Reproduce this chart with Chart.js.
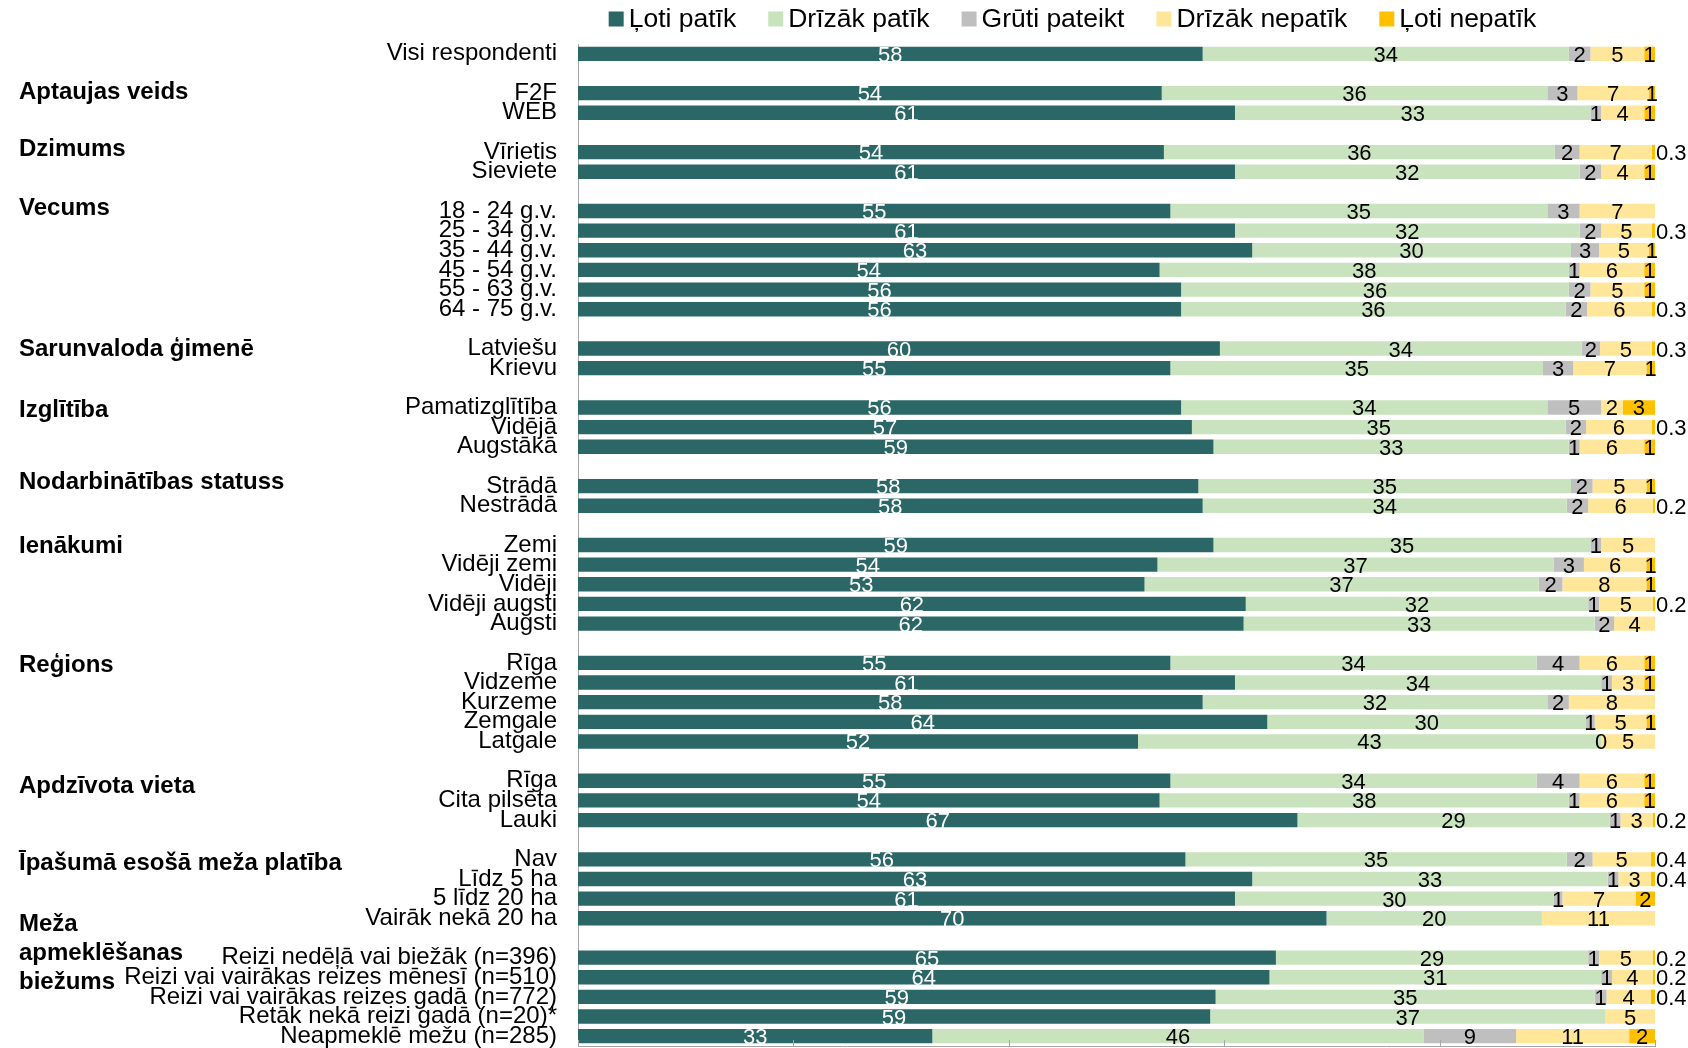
<!DOCTYPE html>
<html>
<head>
<meta charset="utf-8">
<script src="https://cdn.jsdelivr.net/npm/chart.js@4.4.1/dist/chart.umd.min.js"></script>
<style>
  html, body { margin: 0; padding: 0; background: #fff; }
</style>
</head>
<body>
<canvas id="chart" width="1688" height="1048"></canvas>
<script>
const N = null;

// rows of the chart, '' = spacer row between groups
const categories = [
  'Visi respondenti', '',
  'F2F', 'WEB', '',
  'Vīrietis', 'Sieviete', '',
  '18 - 24 g.v.', '25 - 34 g.v.', '35 - 44 g.v.', '45 - 54 g.v.', '55 - 63 g.v.', '64 - 75 g.v.', '',
  'Latviešu', 'Krievu', '',
  'Pamatizglītība', 'Vidējā', 'Augstākā', '',
  'Strādā', 'Nestrādā', '',
  'Zemi', 'Vidēji zemi', 'Vidēji', 'Vidēji augsti', 'Augsti', '',
  'Rīga', 'Vidzeme', 'Kurzeme', 'Zemgale', 'Latgale', '',
  'Rīga', 'Cita pilsēta', 'Lauki', '',
  'Nav', 'Līdz 5 ha', '5 līdz 20 ha', 'Vairāk nekā 20 ha', '',
  'Reizi nedēļā vai biežāk (n=396)', 'Reizi vai vairākas reizes mēnesī (n=510)',
  'Reizi vai vairākas reizes gadā (n=772)', 'Retāk nekā reizi gadā (n=20)*', 'Neapmeklē mežu (n=285)'
];

const seriesNames = ['Ļoti patīk', 'Drīzāk patīk', 'Grūti pateikt', 'Drīzāk nepatīk', 'Ļoti nepatīk'];

// shares in % (labels show them rounded)
const lotiPatik = [58, N, 54.2, 61, N, 54.4, 61, N, 55, 61, 62.6, 54, 56, 56, N, 59.6, 55, N, 56, 57, 59, N, 57.6, 58, N,
  59, 53.8, 52.6, 62, 61.8, N, 55, 61, 58, 64, 52, N, 55, 54, 66.8, N, 56.4, 62.6, 61, 69.5, N, 64.8, 64.2, 59.2, 58.7, 32.9];
const drizakPatik = [34, N, 35.8, 33, N, 36.3, 32, N, 35, 32, 29.6, 38, 36, 35.7, N, 33.6, 34.6, N, 34, 34.7, 33, N, 34.6, 33.8, N,
  35, 36.8, 36.6, 31.8, 32.6, N, 34, 34, 32, 29.6, 43, N, 34, 38, 29, N, 35.4, 33, 29.6, 20, N, 29, 30.8, 35.2, 36.7, 45.6];
const grutiPateikt = [2, N, 2.8, 1, N, 2.3, 2, N, 3, 2, 2.6, 1, 2, 2, N, 1.7, 2.8, N, 5, 1.9, 1, N, 2, 2, N,
  1, 2.8, 2.2, 1, 1.8, N, 4, 1, 2, 0.8, 0, N, 4, 1, 1, N, 2.4, 1, 0.8, N, N, 1, 1, 1.1, N, 8.6];
const drizakNepatik = [5, N, 6.6, 4, N, 6.7, 4, N, 7, 4.7, 4.6, 6, 5, 6, N, 4.8, 6.8, N, 2, 6.1, 6, N, 5, 6, N,
  5, 5.8, 7.8, 5, 3.8, N, 6, 3, 8, 4.8, 5, N, 6, 6, 3, N, 5.4, 3, 6.8, 10.5, N, 5, 3.8, 4.1, 4.6, 10.5];
const lotiNepatik = [1, N, 0.6, 1, N, 0.3, 1, N, N, 0.3, 0.6, 1, 1, 0.3, N, 0.3, 0.8, N, 3, 0.3, 1, N, 0.8, 0.2, N,
  N, 0.8, 0.8, 0.2, N, N, 1, 1, N, 0.8, N, N, 1, 1, 0.2, N, 0.4, 0.4, 1.8, N, N, 0.2, 0.2, 0.4, N, 2.4];

// group headings: text lines and the row they belong to
const groupLabels = [
  ['Aptaujas veids'], ['Dzimums'], ['Vecums'], ['Sarunvaloda ģimenē'], ['Izglītība'],
  ['Nodarbinātības statuss'], ['Ienākumi'], ['Reģions'], ['Apdzīvota vieta'],
  ['Īpašumā esošā meža platība'], ['Meža', 'apmeklēšanas', 'biežums']
];
const groupRows = [2, 5, 8, 15, 18, 22, 25, 31, 37, 41, 46];

const colors = ['#2A6766', '#C9E3BE', '#BFBFBF', '#FFE699', '#FFC000'];
const FONT = '"Liberation Sans", Arial, sans-serif';

const groupShift = [-1, -3, -3, 1, 3, -4, 1, 2, 6, 4, -33];

function fmt(v) {
  if (v === 0) return '0';
  if (v < 0.5) return v.toFixed(1);
  return String(Math.round(v));
}

const groupPlugin = {
  id: 'groupLabels',
  afterDraw(chart) {
    const ctx = chart.ctx, y = chart.scales.y;
    ctx.save();
    ctx.font = 'bold 24px ' + FONT;
    ctx.fillStyle = '#000';
    ctx.textAlign = 'left';
    ctx.textBaseline = 'middle';
    groupLabels.forEach((lines, g) => {
      const base = y.getPixelForValue(groupRows[g]) + groupShift[g];
      lines.forEach((t, k) => ctx.fillText(t, 19, base + k * 29));
    });
    ctx.restore();
  }
};

const segLabels = {
  id: 'segLabels',
  afterDatasetsDraw(chart) {
    const ctx = chart.ctx;
    ctx.save();
    ctx.font = '22px ' + FONT;
    ctx.textBaseline = 'alphabetic';
    chart.data.datasets.forEach((ds, di) => {
      chart.getDatasetMeta(di).data.forEach((bar, i) => {
        const v = ds.data[i];
        if (v === null || v === undefined) return;
        const p = bar.getProps(['x', 'y', 'base'], true);
        const ty = p.y + 8;
        if (v > 0 && v < 0.5) {
          ctx.textAlign = 'left';
          ctx.fillStyle = '#000';
          ctx.fillText(fmt(v), p.x + 1, ty);
        } else {
          ctx.textAlign = 'center';
          ctx.fillStyle = di === 0 ? '#fff' : '#000';
          ctx.fillText(fmt(v), (p.x + p.base) / 2, ty);
        }
      });
    });
    // small tick marks pointing up from the bottom axis
    const x = chart.scales.x, bottom = chart.chartArea.bottom;
    ctx.strokeStyle = '#A6A6A6';
    ctx.lineWidth = 1;
    for (let v = 0; v <= 100; v += 20) {
      const px = Math.round(x.getPixelForValue(v)) + 0.5;
      ctx.beginPath();
      ctx.moveTo(px, bottom - 6);
      ctx.lineTo(px, bottom);
      ctx.stroke();
    }
    ctx.restore();
  }
};

const topLegend = {
  id: 'topLegend',
  afterDraw(chart) {
    const ctx = chart.ctx;
    ctx.save();
    ctx.font = '26.5px ' + FONT;
    ctx.textBaseline = 'middle';
    ctx.textAlign = 'left';
    const box = 15, gapText = 5, gapItem = 32, cy = 19;
    const items = chart.data.datasets.map(d => ({ text: d.label, color: d.backgroundColor, w: ctx.measureText(d.label).width }));
    const total = items.reduce((s, it) => s + box + gapText + it.w, 0) + gapItem * (items.length - 1);
    const ca = chart.chartArea;
    let x = (ca.left + ca.right) / 2 - 44 - total / 2;
    items.forEach(it => {
      ctx.fillStyle = it.color;
      ctx.fillRect(x, cy - box / 2, box, box);
      ctx.fillStyle = '#000';
      ctx.fillText(it.text, x + box + gapText, cy + 1);
      x += box + gapText + it.w + gapItem;
    });
    ctx.restore();
  }
};

const seriesData = [lotiPatik, drizakPatik, grutiPateikt, drizakNepatik, lotiNepatik];

new Chart(document.getElementById('chart'), {
  type: 'bar',
  data: {
    labels: categories,
    datasets: seriesData.map((d, i) => ({
      label: seriesNames[i],
      data: d,
      backgroundColor: colors[i],
      borderWidth: 0,
      barPercentage: 0.73,
      categoryPercentage: 1
    }))
  },
  options: {
    indexAxis: 'y',
    responsive: false,
    animation: false,
    events: [],
    devicePixelRatio: 1,
    layout: { padding: { top: 44, right: 33, bottom: 2, left: 0 } },
    plugins: {
      legend: { display: false },
      tooltip: { enabled: false }
    },
    scales: {
      x: {
        stacked: true,
        min: 0,
        max: 100,
        ticks: { display: false },
        grid: { display: false, drawTicks: false },
        border: { display: true, color: '#A6A6A6', width: 1 },
        afterFit(scale) { scale.height = 0; }
      },
      y: {
        stacked: true,
        ticks: {
          autoSkip: false,
          color: '#000',
          padding: 21,
          font: { family: FONT, size: 24 }
        },
        grid: { display: false, drawTicks: false },
        border: { display: true, color: '#A6A6A6', width: 1 },
        afterFit(scale) {
          scale.width = 578;
          scale.paddingTop = 0;
          scale.paddingBottom = 0;
        }
      }
    }
  },
  plugins: [segLabels, groupPlugin, topLegend]
});
</script>
</body>
</html>
